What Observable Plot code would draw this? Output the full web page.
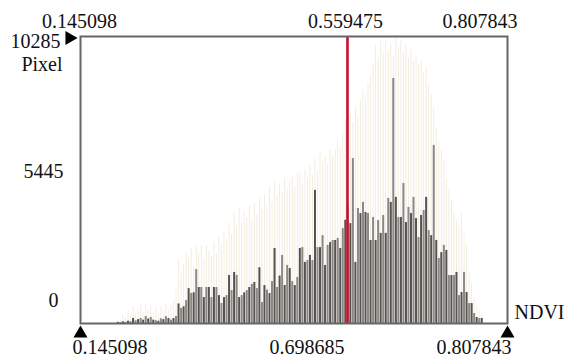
<!DOCTYPE html>
<html>
<head>
<meta charset="utf-8">
<script src="https://cdn.jsdelivr.net/npm/d3@7"></script>
<script src="https://cdn.jsdelivr.net/npm/@observablehq/plot@0.6"></script>
<style>
  html, body { margin: 0; padding: 0; background: #fff; }
  svg { display: block; overflow: visible; }
  svg text { font-family: "Liberation Serif", "Times New Roman", serif !important; font-size: 20px !important; }
</style>
</head>
<body>
<div id="chart"></div>
<script>
// NDVI histogram (byte-scaled NDVI: value = bin / 255)
const ndviMin = 0.145098;
const ndviMax = 0.807843;
const ndviMarker = 0.559475;
const pixelMax = 10285;
const firstBin = 52;

// dark (gray) histogram counts, bins 52..196
const darkCounts = [
  40, 30, 60, 40, 80, 60, 180, 100, 140, 180, 120, 250, 160, 220, 120, 100, 80, 170, 140, 250, 180, 120, 180, 250,
  700, 540, 600, 820, 1250, 1080, 1100, 1930, 1290, 1290, 930, 1290, 1290, 930, 1290, 1290, 1000, 716, 930, 1000,
  1720, 1180, 1830, 1720, 930, 1000, 1100, 1180, 1290, 1400, 1470, 1250, 2000, 750, 1360, 1200, 1075, 1500,
  2690, 1290, 1700, 2440, 1360, 2080, 1970, 1500, 1360, 1650, 2690, 2720, 2190, 2260, 2440, 2260, 4770, 2720,
  2720, 3150, 2080, 2800, 2900, 2975, 2975, 3050, 2690, 3400, 3700, 4160, 3580, 5910, 2190, 4120, 3940, 4340,
  3980, 3940, 2975, 3800, 2975, 3690, 3230, 3870, 3230, 4480, 4340, 8780, 4520, 3800, 3800, 5020, 3620, 4160,
  3940, 4520, 3760, 3080, 3870, 4050, 4520, 3330, 3150, 6380, 2975, 2330, 2540, 2800, 2620, 1720, 1720, 1720,
  1830, 1000, 1110, 1830, 1110, 716, 716, 360, 215, 180, 180
];

// light (beige) histogram counts, bins 52..196
const lightCounts = [
  150, 100, 300, 200, 450, 250, 600, 350, 500, 650, 400, 700, 500, 650, 400, 550, 350, 600, 450, 700, 500, 650, 800, 1200,
  2260, 1800, 2100, 2510, 2300, 2700, 2000, 2800, 2500, 2800, 2300, 2750, 2600, 2400, 2900, 2500, 3100, 2800, 3300, 3000, 3600, 3200, 3900, 3500,
  4150, 3600, 4000, 3800, 4200, 3700, 4300, 3900, 4500, 4100, 4600, 4200, 4900, 4400, 5100, 4600, 5000, 4700, 5200, 4800, 5100, 5300, 4900, 5400,
  5380, 5000, 5500, 5200, 5660, 5300, 5900, 5500, 6130, 5800, 6000, 5700, 6200, 6000, 6200, 6500, 6300, 6800, 7280, 6900, 7500, 7200, 7740, 7400,
  8000, 8350, 8100, 8600, 8900, 9300, 9960, 9500, 10100, 9700, 10140, 9800, 10000, 9600, 10200, 9900, 10140, 9700, 10000, 9500, 9800, 9400, 9600, 9300,
  9400, 9000, 9170, 8600, 8200, 7740, 7000, 6500, 6200, 5840, 5200, 4800, 4400, 3940, 3700, 3500, 3940, 3200, 2800, 1790, 1400, 900, 600, 470, 300
];

const topLabels = ["0.145098", "0.559475", "0.807843"];
const bottomLabels = ["0.145098", "0.698685", "0.807843"];
const yLabels = ["10285", "5445", "0"];
const yValues = [10285, 5445, 0];
const yTitle = "Pixel";
const xTitle = "NDVI";

const bins = darkCounts.map((d, i) => ({
  bin: firstBin + i,
  dark: d,
  light: lightCounts[i]
}));

const font = "Liberation Serif";
const tx = { fill: "#111", fontFamily: font, fontSize: 20 };

const chart = Plot.plot({
  width: 567,
  height: 359,
  marginLeft: 80,
  marginRight: 60,
  marginTop: 36,
  marginBottom: 36,
  style: "font-family: 'Liberation Serif', serif; font-size: 20px; background: #fff; color: #111;",
  x: { domain: [ndviMin, ndviMax], axis: null },
  y: { domain: [0, pixelMax], axis: null },
  marks: [
    // beige bars
    Plot.rectY(bins, {
      x1: d => (d.bin - 0.5) / 255, x2: d => (d.bin + 0.5) / 255, y: "light",
      insetLeft: 0.8, insetRight: 0.8, fill: "#f1ecdd"
    }),
    // gray bars
    Plot.rectY(bins, {
      x1: d => (d.bin - 0.5) / 255, x2: d => (d.bin + 0.5) / 255, y: "dark",
      insetLeft: 0.25, insetRight: 0.25,
      fill: d => d.bin % 2 === 0 ? "#56524f" : "#8c8884"
    }),
    Plot.ruleX([ndviMarker], { stroke: "#c8102e", strokeWidth: 2.6 }),
    Plot.frame({ stroke: "#666", strokeWidth: 2 }),
    // top labels
    Plot.text([topLabels[0]], { ...tx, x: ndviMin, frameAnchor: "top", text: d => d, lineAnchor: "bottom", dy: -9, dx: -1 }),
    Plot.text([topLabels[1]], { ...tx, x: ndviMarker, frameAnchor: "top", text: d => d, lineAnchor: "bottom", dy: -9, dx: -2 }),
    Plot.text([topLabels[2]], { ...tx, x: ndviMax, frameAnchor: "top", text: d => d, lineAnchor: "bottom", textAnchor: "end", dy: -9, dx: 10 }),
    // bottom labels
    Plot.text([bottomLabels[0]], { ...tx, x: ndviMin, frameAnchor: "bottom", text: d => d, lineAnchor: "bottom", textAnchor: "start", dy: 30, dx: -8 }),
    Plot.text([bottomLabels[1]], { ...tx, frameAnchor: "bottom", text: d => d, lineAnchor: "bottom", dy: 30, dx: 13 }),
    Plot.text([bottomLabels[2]], { ...tx, x: ndviMax, frameAnchor: "bottom", text: d => d, lineAnchor: "bottom", textAnchor: "end", dy: 30, dx: 4 }),
    // y labels
    Plot.text([0], { ...tx, y: yValues[0], frameAnchor: "left", text: () => yLabels[0], textAnchor: "end", lineAnchor: "bottom", dx: -20, dy: 11 }),
    Plot.text([0], { ...tx, y: yValues[0], frameAnchor: "left", text: () => yTitle, textAnchor: "end", lineAnchor: "bottom", dx: -18, dy: 34 }),
    Plot.text([0], { ...tx, y: yValues[1], frameAnchor: "left", text: () => yLabels[1], textAnchor: "end", dx: -17, dy: 0 }),
    Plot.text([0], { ...tx, y: yValues[2], frameAnchor: "left", text: () => yLabels[2], textAnchor: "end", dx: -22, dy: -23 }),
    // x title
    Plot.text([0], { ...tx, x: ndviMax, frameAnchor: "bottom", text: () => xTitle, textAnchor: "start", lineAnchor: "bottom", dx: 7, dy: -5 }),
    // triangles
    Plot.dot([ndviMin, ndviMax], { x: d => d, frameAnchor: "bottom", symbol: "triangle", r: 5.2, fill: "#000", stroke: "none", dy: 10 }),
    Plot.dot([0], { y: pixelMax, frameAnchor: "left", symbol: "triangle", r: 5.2, fill: "#000", stroke: "none", rotate: 90, dx: -11, dy: 1.5 })
  ]
});

document.getElementById("chart").appendChild(chart);
</script>
</body>
</html>
